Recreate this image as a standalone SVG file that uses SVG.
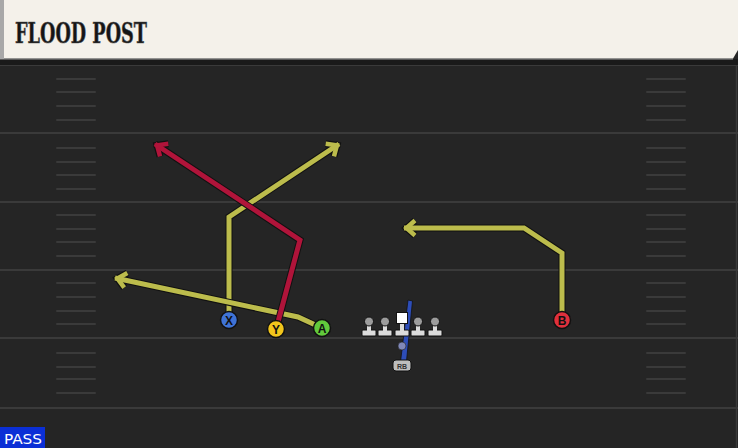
<svg xmlns="http://www.w3.org/2000/svg" width="738" height="448" viewBox="0 0 738 448">
<style>
.fl{stroke:#3a3a3a;stroke-width:2}
.hm{stroke:#3a3a3a;stroke-width:2;stroke-linecap:round}
.ol{fill:none;stroke:#111;stroke-width:7;stroke-linejoin:miter;stroke-linecap:butt}
.ye{fill:none;stroke:#bcbc4c;stroke-width:5;stroke-linejoin:miter}
.re{fill:none;stroke:#b0143a;stroke-width:5;stroke-linejoin:miter}
.pl{stroke:#111;stroke-width:1.5}
.lt{font-family:"Liberation Sans",Arial,sans-serif;font-weight:bold;font-size:12px;fill:#111;text-anchor:middle}
.ln{stroke:#111;stroke-width:1}
.bd{fill:#dcdcdc}
</style>
<defs>
<marker id="mo" markerUnits="userSpaceOnUse" orient="auto" markerWidth="30" markerHeight="30" refX="2.5" refY="0" viewBox="-15 -15 30 30" overflow="visible">
<path d="M-8.5,-7.5 L0,0 L-8.5,7.5" fill="none" stroke="#111" stroke-width="7" stroke-linejoin="miter"/>
</marker>
<marker id="my" markerUnits="userSpaceOnUse" orient="auto" markerWidth="30" markerHeight="30" refX="2.5" refY="0" viewBox="-15 -15 30 30" overflow="visible">
<path d="M-8.5,-7.5 L0,0 L-8.5,7.5" fill="none" stroke="#bcbc4c" stroke-width="4.5" stroke-linejoin="miter"/>
</marker>
<marker id="mr" markerUnits="userSpaceOnUse" orient="auto" markerWidth="30" markerHeight="30" refX="2.5" refY="0" viewBox="-15 -15 30 30" overflow="visible">
<path d="M-8.5,-7.5 L0,0 L-8.5,7.5" fill="none" stroke="#b0143a" stroke-width="4.5" stroke-linejoin="miter"/>
</marker>
</defs>
<rect width="738" height="448" fill="#252525"/>
<g id="field">
<line class="fl" x1="0" y1="65" x2="738" y2="65"/>
<line class="fl" x1="0" y1="133" x2="738" y2="133"/>
<line class="fl" x1="0" y1="202" x2="738" y2="202"/>
<line class="fl" x1="0" y1="270" x2="738" y2="270"/>
<line class="fl" x1="0" y1="338" x2="738" y2="338"/>
<line class="fl" x1="0" y1="408" x2="738" y2="408"/>
<line x1="736.5" y1="60" x2="736.5" y2="448" stroke="#3a3a3a" stroke-width="1.5"/>
<g id="hashL">
<line class="hm" x1="57" y1="79" x2="95" y2="79"/><line class="hm" x1="57" y1="92" x2="95" y2="92"/><line class="hm" x1="57" y1="106" x2="95" y2="106"/><line class="hm" x1="57" y1="120" x2="95" y2="120"/>
<line class="hm" x1="57" y1="148" x2="95" y2="148"/><line class="hm" x1="57" y1="162" x2="95" y2="162"/><line class="hm" x1="57" y1="175" x2="95" y2="175"/><line class="hm" x1="57" y1="189" x2="95" y2="189"/>
<line class="hm" x1="57" y1="215" x2="95" y2="215"/><line class="hm" x1="57" y1="229" x2="95" y2="229"/><line class="hm" x1="57" y1="242" x2="95" y2="242"/><line class="hm" x1="57" y1="256" x2="95" y2="256"/>
<line class="hm" x1="57" y1="283" x2="95" y2="283"/><line class="hm" x1="57" y1="297" x2="95" y2="297"/><line class="hm" x1="57" y1="311" x2="95" y2="311"/><line class="hm" x1="57" y1="324" x2="95" y2="324"/>
<line class="hm" x1="57" y1="353" x2="95" y2="353"/><line class="hm" x1="57" y1="367" x2="95" y2="367"/><line class="hm" x1="57" y1="379" x2="95" y2="379"/><line class="hm" x1="57" y1="393" x2="95" y2="393"/>
</g>
<g id="hashR">
<line class="hm" x1="647" y1="79" x2="685" y2="79"/><line class="hm" x1="647" y1="92" x2="685" y2="92"/><line class="hm" x1="647" y1="106" x2="685" y2="106"/><line class="hm" x1="647" y1="120" x2="685" y2="120"/>
<line class="hm" x1="647" y1="148" x2="685" y2="148"/><line class="hm" x1="647" y1="162" x2="685" y2="162"/><line class="hm" x1="647" y1="175" x2="685" y2="175"/><line class="hm" x1="647" y1="189" x2="685" y2="189"/>
<line class="hm" x1="647" y1="215" x2="685" y2="215"/><line class="hm" x1="647" y1="229" x2="685" y2="229"/><line class="hm" x1="647" y1="242" x2="685" y2="242"/><line class="hm" x1="647" y1="256" x2="685" y2="256"/>
<line class="hm" x1="647" y1="283" x2="685" y2="283"/><line class="hm" x1="647" y1="297" x2="685" y2="297"/><line class="hm" x1="647" y1="311" x2="685" y2="311"/><line class="hm" x1="647" y1="324" x2="685" y2="324"/>
<line class="hm" x1="647" y1="353" x2="685" y2="353"/><line class="hm" x1="647" y1="367" x2="685" y2="367"/><line class="hm" x1="647" y1="379" x2="685" y2="379"/><line class="hm" x1="647" y1="393" x2="685" y2="393"/>
</g>
</g>
<g id="header">
<rect x="0" y="59" width="738" height="6" fill="#1a1a1a"/>
<path d="M0,0 H738 V50 L733,58.5 H0 Z" fill="#f4f1ea"/>
<line x1="0" y1="59" x2="733" y2="59" stroke="#9a9a9a" stroke-width="1"/>
<rect x="0" y="0" width="4" height="59" fill="#a8a8a8"/>
<text x="15" y="42.5" font-family="'DejaVu Serif','Liberation Serif',serif" font-weight="bold" font-size="28" fill="#151515" stroke="#555" stroke-width="0.6" textLength="132" lengthAdjust="spacingAndGlyphs">FLOOD POST</text>
</g>
<g id="connectors">
<g id="route-X">
<polyline class="ol" points="229,315 229,217 339,144" marker-end="url(#mo)"/>
<polyline class="ye" points="229,315 229,217 339,144" marker-end="url(#my)"/>
</g>
<g id="route-A">
<polyline class="ol" points="322,328 298,317 115,278" marker-end="url(#mo)"/>
<polyline class="ye" points="322,328 298,317 115,278" marker-end="url(#my)"/>
</g>
<g id="route-Y">
<polyline class="ol" points="278,322 300,240 155,144" marker-end="url(#mo)"/>
<polyline class="re" points="278,322 300,240 155,144" marker-end="url(#mr)"/>
</g>
<g id="route-B">
<polyline class="ol" points="562,315 562,253 524,228 404,228" marker-end="url(#mo)"/>
<polyline class="ye" points="562,315 562,253 524,228 404,228" marker-end="url(#my)"/>
</g>
<g id="route-RB">
<polygon points="408,300 412.5,301 406,366 400,366" fill="#2d4db8" stroke="#111" stroke-width="0.8"/>
</g>
</g>
<g id="X"><circle class="pl" cx="229" cy="320" r="8.5" fill="#3f73d6"/><text class="lt" x="229" y="324.5">X</text></g>
<g id="Y"><circle class="pl" cx="276" cy="329" r="8.5" fill="#f1c51c"/><text class="lt" x="276" y="333.5">Y</text></g>
<g id="A"><circle class="pl" cx="322" cy="328" r="8.5" fill="#62c93c"/><text class="lt" x="322" y="332.5">A</text></g>
<g id="B"><circle class="pl" cx="562" cy="320" r="8.5" fill="#e0303c"/><text class="lt" x="562" y="324.5">B</text></g>
<g id="OL">
<g id="LT"><rect class="ln bd" x="362" y="330" width="14" height="6" rx="1"/><rect class="bd" x="367" y="323" width="4" height="8"/><circle class="ln" cx="369" cy="321.5" r="4.5" fill="#9c9c9c"/></g>
<g id="LG"><rect class="ln bd" x="378" y="330" width="14" height="6" rx="1"/><rect class="bd" x="383" y="323" width="4" height="8"/><circle class="ln" cx="385" cy="321.5" r="4.5" fill="#9c9c9c"/></g>
<g id="C"><rect class="ln bd" x="395" y="330" width="14" height="6" rx="1"/><rect class="bd" x="400" y="322" width="4" height="9"/><rect class="ln" x="396.5" y="312.5" width="11" height="11" fill="#ffffff"/></g>
<g id="RG"><rect class="ln bd" x="411" y="330" width="14" height="6" rx="1"/><rect class="bd" x="416" y="323" width="4" height="8"/><circle class="ln" cx="418" cy="321.5" r="4.5" fill="#9c9c9c"/></g>
<g id="RT"><rect class="ln bd" x="428" y="330" width="14" height="6" rx="1"/><rect class="bd" x="433" y="323" width="4" height="8"/><circle class="ln" cx="435" cy="321.5" r="4.5" fill="#9c9c9c"/></g>
</g>
<g id="RB">
<circle cx="402" cy="346" r="4" fill="#8088b8" stroke="#222" stroke-width="0.6"/>
<rect x="393" y="360" width="18" height="11" rx="3" fill="#bdbdbd" stroke="#111" stroke-width="1"/>
<text x="402" y="368.5" font-family="'Liberation Sans',Arial,sans-serif" font-size="7" font-weight="bold" fill="#333" text-anchor="middle">RB</text>
</g>
<g id="pass">
<rect x="0" y="427" width="45" height="21" fill="#0b2fd6"/>
<text x="4" y="444" font-family="'DejaVu Sans Condensed','DejaVu Sans',sans-serif" font-size="14.5" fill="#ffffff" textLength="38" lengthAdjust="spacingAndGlyphs">PASS</text>
</g>
</svg>
